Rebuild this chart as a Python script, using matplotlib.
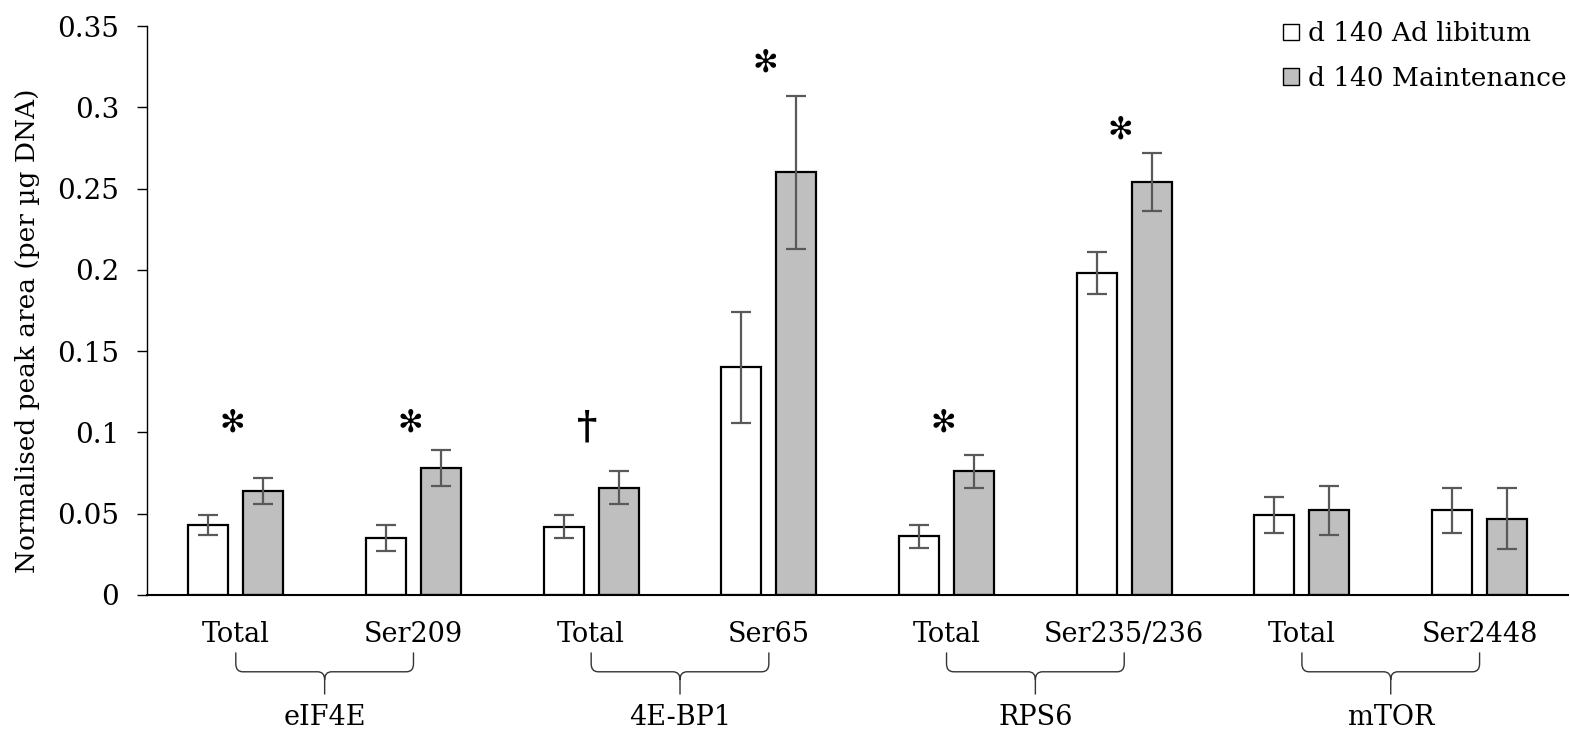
import numpy as np
import matplotlib
matplotlib.use("Agg")
import matplotlib.pyplot as plt
from matplotlib.path import Path
from matplotlib.patches import PathPatch

plt.rcParams['font.family'] = ['DejaVu Serif']

# data
sites = ['Total', 'Ser209', 'Total', 'Ser65', 'Total', 'Ser235/236', 'Total', 'Ser2448']
proteins = ['eIF4E', '4E-BP1', 'RPS6', 'mTOR']
adlib = [0.043, 0.035, 0.042, 0.140, 0.036, 0.198, 0.049, 0.052]
adlib_err = [0.006, 0.008, 0.007, 0.034, 0.007, 0.013, 0.011, 0.014]
maint = [0.064, 0.078, 0.066, 0.260, 0.076, 0.254, 0.052, 0.047]
maint_err = [0.008, 0.011, 0.010, 0.047, 0.010, 0.018, 0.015, 0.019]
marks = ['*', '*', '†', '*', '*', '*', '', '']
mark_y = [0.106, 0.106, 0.103, 0.327, 0.106, 0.286, 0, 0]

fig = plt.figure(figsize=(15.7, 7.33), dpi=100)
ax = fig.add_axes([0.0936, 0.1883, 0.9054, 0.7762])

x = np.arange(len(sites))
w = 0.225
off = 0.155
ekw = dict(ecolor='#595959', elinewidth=1.6, capsize=7, capthick=1.6)
ax.bar(x - off, adlib, w, color='white', edgecolor='black', linewidth=1.6,
       yerr=adlib_err, error_kw=ekw, label='d 140 Ad libitum', zorder=2)
ax.bar(x + off, maint, w, color='#bfbfbf', edgecolor='black', linewidth=1.6,
       yerr=maint_err, error_kw=ekw, label='d 140 Maintenance', zorder=2)

for i, m in enumerate(marks):
    if m == '*':
        ax.text(x[i] - 0.02, mark_y[i], '✻', fontsize=22, ha='center', va='center',
                family=['DejaVu Sans'])
    elif m:
        ax.text(x[i] - 0.02, mark_y[i], m, fontsize=28, fontweight='bold',
                ha='center', va='center')

ax.set_xlim(-0.5, len(sites) - 0.5)
ax.set_ylim(0, 0.35)
ax.set_yticks(np.arange(0, 0.351, 0.05))
ax.set_yticklabels(['0', '0.05', '0.1', '0.15', '0.2', '0.25', '0.3', '0.35'])
ax.tick_params(axis='y', labelsize=20, length=7, width=1, pad=13)
ax.set_xticks([])
for s in ['top', 'right']:
    ax.spines[s].set_visible(False)
ax.spines['left'].set_linewidth(1)
ax.spines['bottom'].set_linewidth(1.5)
ax.set_ylabel('Normalised peak area (per µg DNA)', fontsize=19)
ax.yaxis.set_label_coords(-0.075, 0.464)

# site labels, braces and protein names
tr = ax.get_xaxis_transform()
for i, s in enumerate(sites):
    ax.text(x[i], -0.07, s, fontsize=19.5, ha='center', va='center', transform=tr)

yt, yh, yb = -0.101, -0.135, -0.175
rx, ry = 0.04, 0.014
for j, p in enumerate(proteins):
    x0, x1 = x[2 * j], x[2 * j + 1]
    xm = (x0 + x1) / 2
    verts = [(x0, yt), (x0, yh + ry), (x0, yh), (x0 + rx, yh), (xm - rx, yh),
             (xm, yh), (xm, yh - ry), (xm, yb),
             (xm, yh - ry), (xm, yh), (xm + rx, yh), (x1 - rx, yh),
             (x1, yh), (x1, yh + ry), (x1, yt)]
    codes = [Path.MOVETO, Path.LINETO, Path.CURVE3, Path.CURVE3, Path.LINETO,
             Path.CURVE3, Path.CURVE3, Path.LINETO,
             Path.MOVETO, Path.CURVE3, Path.CURVE3, Path.LINETO,
             Path.CURVE3, Path.CURVE3, Path.LINETO]
    ax.add_patch(PathPatch(Path(verts, codes), transform=tr, fill=False,
                           edgecolor='#333333', linewidth=1, clip_on=False))
    ax.text(xm, -0.215, p, fontsize=19.5, ha='center', va='center', transform=tr)

leg = ax.legend(loc='upper right', bbox_to_anchor=(1.006, 1.027), frameon=False,
                fontsize=19, handlelength=0.6, handleheight=0.6, handletextpad=0.35,
                labelspacing=0.75, borderaxespad=0)
for h in leg.legend_handles:
    h.set_linewidth(1)

fig.savefig('out.png', dpi=100)
